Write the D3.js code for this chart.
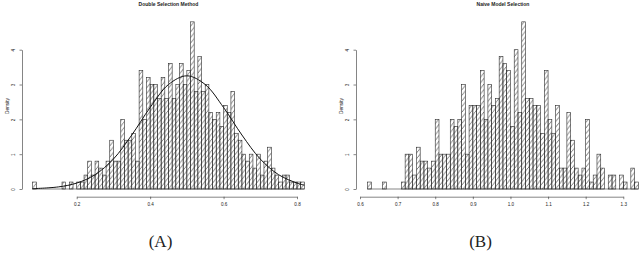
<!DOCTYPE html>
<html>
<head>
<meta charset="utf-8">
<script src="https://cdn.jsdelivr.net/npm/d3@7"></script>
<style>
  body { margin: 0; background: #fff; }
  text { font-family: "Liberation Sans", Arial, sans-serif; fill: #222; }
</style>
</head>
<body>
<div id="chart"></div>
<script>
var svgWidth = 640;
var svgHeight = 258;

// Histogram data (density, bins of width 0.01)
var binWidth = 0.01;

var leftStart = 0.08;
var leftDensity = [
  0.2, 0, 0, 0, 0, 0, 0, 0, 0.2, 0,
  0.2, 0, 0.2, 0.2, 0.4, 0.8, 0.4, 0.8, 0.6, 0.4,
  0.8, 1.4, 0.8, 0.8, 2.0, 1.4, 1.4, 1.6, 0.8, 3.4,
  2.0, 3.2, 3.0, 3.0, 2.6, 3.2, 2.6, 3.6, 2.6, 3.0,
  3.6, 3.0, 3.4, 4.8, 2.8, 3.8, 2.8, 3.0, 2.2, 2.0,
  2.2, 1.8, 2.4, 2.2, 2.8, 1.6, 1.4, 1.0, 0.8, 1.0,
  0.6, 1.0, 0.4, 0.8, 1.2, 0.6, 0.4, 0.2, 0.4, 0.4,
  0.2, 0.2, 0.2, 0.2
];

var rightStart = 0.62;
var rightDensity = [
  0.2, 0, 0, 0, 0.2, 0, 0, 0, 0, 0.2,
  1.0, 1.0, 0.4, 1.2, 0.8, 0.8, 0.6, 0.8, 2.0, 1.0,
  1.0, 1.0, 2.0, 1.8, 2.0, 3.0, 1.0, 2.4, 2.4, 2.4,
  3.4, 2.0, 3.0, 2.4, 2.6, 3.8, 3.6, 3.4, 1.8, 4.0,
  2.2, 4.8, 2.6, 2.6, 2.4, 2.4, 1.6, 3.4, 2.0, 1.6,
  2.4, 0.6, 0.6, 2.2, 1.4, 0.6, 0.4, 0.6, 2.0, 0.2,
  0.4, 1.0, 0.6, 0, 0.4, 0.4, 0, 0.4, 0.2, 0,
  0.6, 0.2
];

// fitted normal curve on the left panel
var curveX = [0.08, 0.15, 0.20, 0.25, 0.30, 0.35, 0.40, 0.45, 0.50, 0.55, 0.60, 0.65, 0.70, 0.75, 0.80, 0.82];
var curveY = [0.01, 0.06, 0.17, 0.41, 0.86, 1.55, 2.34, 3.00, 3.25, 3.00, 2.34, 1.55, 0.86, 0.41, 0.17, 0.11];

var leftTicks = [0.2, 0.4, 0.6, 0.8];
var rightTicks = [0.6, 0.7, 0.8, 0.9, 1.0, 1.1, 1.2, 1.3];
var densityTicks = [0, 1, 2, 3, 4];
var titles = ["Double Selection Method", "Naive Model Selection"];
var captions = ["(A)", "(B)"];

var svg = d3.select("#chart")
  .append("svg")
  .attr("width", svgWidth)
  .attr("height", svgHeight);

// diagonal hatching like R's density= shading
svg.append("defs").append("pattern")
  .attr("id", "hatch")
  .attr("patternUnits", "userSpaceOnUse")
  .attr("width", 4.4)
  .attr("height", 5.6)
  .append("path")
  .attr("d", "M-1,6.87 L5.4,-1.27")
  .attr("stroke", "#2a2a2a")
  .attr("stroke-width", 0.65);

function drawPanel(p) {
  var x = d3.scaleLinear().domain(p.xDomain).range(p.xRange);
  var y = d3.scaleLinear().domain([0, 4]).range([189, 49.7]);

  var bins = p.density.map(function(d, i) {
    return { x0: p.start + i * binWidth, x1: p.start + (i + 1) * binWidth, d: d };
  });

  var g = svg.append("g");

  // zero-height bins show as a flat line
  g.append("line")
    .attr("x1", x(bins[0].x0))
    .attr("x2", x(bins[bins.length - 1].x1))
    .attr("y1", y(0))
    .attr("y2", y(0))
    .attr("stroke", "#333")
    .attr("stroke-width", 0.6);

  g.selectAll("rect")
    .data(bins.filter(function(b) { return b.d > 0; }))
    .enter()
    .append("rect")
    .attr("x", function(b) { return x(b.x0); })
    .attr("width", function(b) { return x(b.x1) - x(b.x0); })
    .attr("y", function(b) { return y(b.d); })
    .attr("height", function(b) { return y(0) - y(b.d); })
    .attr("fill", "url(#hatch)")
    .attr("stroke", "#2a2a2a")
    .attr("stroke-width", 0.6);

  if (p.curve) {
    var line = d3.line()
      .x(function(d, i) { return x(curveX[i]); })
      .y(function(d) { return y(d); })
      .curve(d3.curveCatmullRom.alpha(0.5));
    g.append("path")
      .attr("d", line(curveY))
      .attr("fill", "none")
      .attr("stroke", "#111")
      .attr("stroke-width", 1);
  }

  // y axis
  var gy = g.append("g")
    .attr("transform", "translate(" + p.yAxisX + ",0)")
    .call(d3.axisLeft(y).tickValues(densityTicks).tickSize(2.5).tickSizeOuter(0).tickFormat(d3.format("d")));
  gy.selectAll("text")
    .attr("transform", "rotate(-90)")
    .attr("x", 0)
    .attr("y", -7)
    .attr("dy", 0)
    .attr("text-anchor", "middle")
    .attr("font-size", "4.6px");

  // x axis
  var gx = g.append("g")
    .attr("transform", "translate(0,196.7)")
    .call(d3.axisBottom(x).tickValues(p.ticks).tickSize(2.5).tickSizeOuter(0).tickFormat(d3.format(".1f")));
  gx.selectAll("text")
    .attr("y", 6)
    .attr("dy", "0.71em")
    .attr("font-size", "4.6px");

  [gx, gy].forEach(function(a) {
    a.select(".domain").attr("stroke", "#333").attr("stroke-width", 0.6);
    a.selectAll(".tick line").attr("stroke", "#333").attr("stroke-width", 0.6);
    a.selectAll("text").attr("fill", "#222").attr("font-family", "Liberation Sans, Arial, sans-serif");
  });

  // y label
  g.append("text")
    .attr("transform", "translate(" + (p.yAxisX - 13) + ",106) rotate(-90)")
    .attr("text-anchor", "middle")
    .attr("font-size", "4.8px")
    .text("Density");

  // title
  g.append("text")
    .attr("x", (x(bins[0].x0) + x(bins[bins.length - 1].x1)) / 2)
    .attr("y", 6.3)
    .attr("text-anchor", "middle")
    .attr("font-size", "5px")
    .attr("font-weight", "bold")
    .text(p.title);

  // caption
  svg.append("text")
    .attr("x", p.captionX)
    .attr("y", 247)
    .attr("text-anchor", "middle")
    .attr("font-size", "17px")
    .style("font-family", "'Liberation Serif', 'DejaVu Serif', serif")
    .text(p.caption);
}

drawPanel({
  xDomain: [0.2, 0.8], xRange: [76.7, 297], yAxisX: 22,
  start: leftStart, density: leftDensity, ticks: leftTicks,
  curve: true, title: titles[0], caption: captions[0], captionX: 160.5
});

drawPanel({
  xDomain: [0.6, 1.3], xRange: [360, 623.3], yAxisX: 356,
  start: rightStart, density: rightDensity, ticks: rightTicks,
  curve: false, title: titles[1], caption: captions[1], captionX: 480.5
});
</script>
</body>
</html>
